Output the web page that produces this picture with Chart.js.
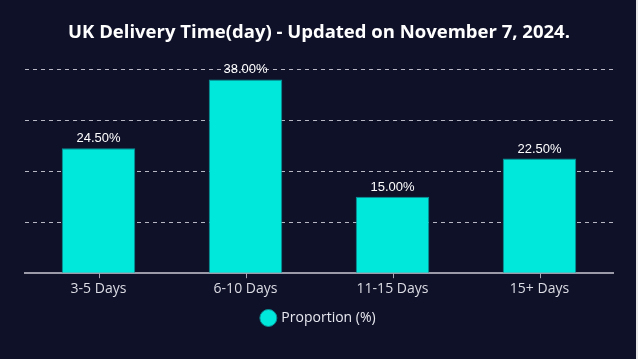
<!DOCTYPE html>
<html>
<head>
<meta charset="utf-8">
<script src="https://cdn.jsdelivr.net/npm/chart.js@4.4.0/dist/chart.umd.min.js"></script>
<style>
    html, body { margin: 0; padding: 0; background: #e8e8e8; }
    #wrap { width: 636px; height: 359px; background: #0f1129; }
</style>
</head>
<body>
<div id="wrap"><canvas id="deliveryChart" width="636" height="359"></canvas></div>
<script>
const categories = ['3-5 Days', '6-10 Days', '11-15 Days', '15+ Days'];
const proportions = [24.5, 38, 15, 22.5];
const seriesName = 'Proportion (%)';
const yTicks = [0, 10, 20, 30, 40];

const barColor = '#00e8dc';

// value above each bar, and the small tick marks under the axis
const valueLabels = {
    id: 'valueLabels',
    afterDraw(chart) {
        const ctx = chart.ctx;
        const meta = chart.getDatasetMeta(0);
        const xScale = chart.scales.x;
        ctx.save();
        ctx.fillStyle = '#ffffff';
        ctx.font = '13px "Liberation Sans", sans-serif';
        ctx.textAlign = 'center';
        ctx.textBaseline = 'bottom';
        meta.data.forEach((bar, i) => {
            ctx.fillText(proportions[i].toFixed(2) + '%', bar.x, bar.y - 3);
        });

        ctx.strokeStyle = '#a8a8b4';
        ctx.lineWidth = 1;
        categories.forEach((c, i) => {
            const x = Math.round(xScale.getPixelForTick(i)) + 0.5;
            ctx.beginPath();
            ctx.moveTo(x, xScale.top);
            ctx.lineTo(x, xScale.top + 5);
            ctx.stroke();
        });
        ctx.restore();
    }
};

new Chart(document.getElementById('deliveryChart'), {
    type: 'bar',
    data: {
        labels: categories,
        datasets: [{
            label: seriesName,
            data: proportions,
            backgroundColor: barColor,
            borderColor: '#0a8f95',
            borderWidth: 1,
            barPercentage: 0.5,
            categoryPercentage: 1
        }]
    },
    options: {
        responsive: false,
        animation: false,
        layout: { padding: { left: 25, right: 23, top: 0, bottom: 24 } },
        plugins: {
            title: {
                display: true,
                text: 'UK Delivery Time(day) - Updated on November 7, 2024.',
                color: '#ffffff',
                font: { family: '"Open Sans", sans-serif', size: 18.5, weight: 'bold' },
                padding: { top: 22, bottom: 25 }
            },
            legend: {
                position: 'bottom',
                labels: {
                    color: '#e8e8f0',
                    usePointStyle: true,
                    pointStyle: 'circle',
                    boxWidth: 12,
                    boxHeight: 12,
                    padding: 12,
                    font: { family: '"Open Sans", sans-serif', size: 14 }
                }
            },
            tooltip: { enabled: false }
        },
        scales: {
            x: {
                grid: {
                    display: true,
                    drawOnChartArea: false,
                    drawTicks: true,
                    tickLength: 5,
                    tickColor: 'rgba(0,0,0,0)'
                },
                border: { color: '#9a9aa8', width: 2 },
                ticks: { color: '#dcdce4', padding: 2, font: { family: '"Open Sans", sans-serif', size: 14 } }
            },
            y: {
                min: yTicks[0],
                max: yTicks[yTicks.length - 1],
                afterBuildTicks: axis => { axis.ticks = yTicks.map(v => ({ value: v })); },
                ticks: { display: false },
                grid: {
                    color: ctx => ctx.tick.value === 0 ? 'rgba(0,0,0,0)' : '#b8b8c4',
                    drawTicks: false
                },
                border: { display: false, dash: [4, 4] }
            }
        }
    },
    plugins: [valueLabels]
});
</script>
</body>
</html>
